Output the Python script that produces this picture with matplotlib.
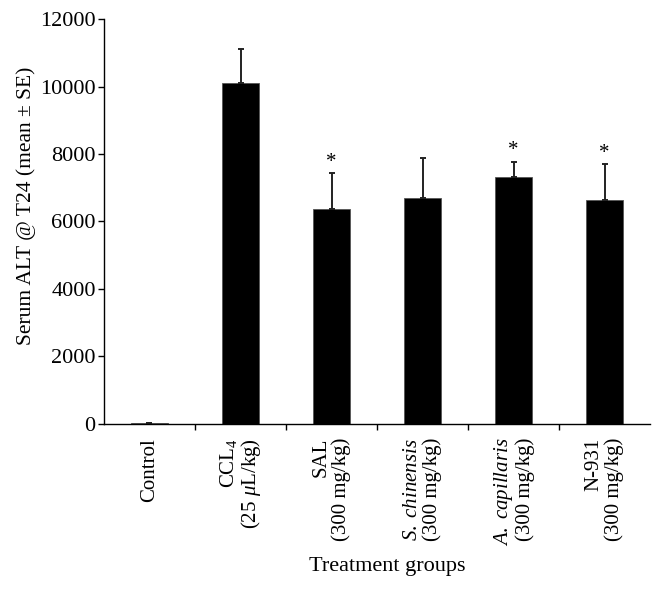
import matplotlib
matplotlib.use("Agg")
import matplotlib.pyplot as plt
import numpy as np

# data
groups = ["Control",
          "CCL$_4$\n(25 $\\mu$L/kg)",
          "SAL\n(300 mg/kg)",
          "$\\mathit{S.\\ chinensis}$\n(300 mg/kg)",
          "$\\mathit{A.\\ capillaris}$\n(300 mg/kg)",
          "N-931\n(300 mg/kg)"]
means = [30, 10100, 6380, 6700, 7320, 6630]
errs = [0, 1000, 1060, 1180, 450, 1060]
signif = [False, False, True, False, True, True]

plt.rcParams['font.family'] = 'Liberation Serif'
plt.rcParams['mathtext.fontset'] = 'custom'
plt.rcParams['mathtext.rm'] = 'Liberation Serif'
plt.rcParams['mathtext.it'] = 'Liberation Serif:italic'
plt.rcParams['mathtext.bf'] = 'Liberation Serif:bold'

fig = plt.figure(figsize=(6.64, 5.92), dpi=100)
ax = fig.add_axes([0.1566, 0.2838, 0.8224, 0.6841])

x = np.arange(len(groups)) + 0.5
ax.bar(x, means, width=0.4, color='black', edgecolor='#555555', linewidth=0.6,
       yerr=[np.zeros(len(errs)), errs], capsize=2,
       error_kw=dict(elinewidth=1.4, capthick=1.4, ecolor='#222222'))

for xi, m, e, s in zip(x, means, errs, signif):
    if s:
        ax.text(xi, m + e + 40, "*", ha='center', va='bottom', fontsize=15)

ax.set_xlim(0, 6)
ax.set_ylim(0, 12000)
ax.set_yticks(np.arange(0, 12001, 2000))
ax.set_xticks(np.arange(1, 6))
ax.set_xticklabels([])
ax.set_xticks(x, minor=True)
ax.set_xticklabels(groups, minor=True, rotation=90, va='top', ha='center',
                   multialignment='right', linespacing=1.05)
ax.tick_params(axis='x', which='minor', length=0, pad=10, labelsize=15)
ax.tick_params(axis='x', which='major', length=4, width=1, direction='out')
ax.tick_params(axis='y', length=4, width=1, direction='out', labelsize=16, pad=2)

for side in ['top', 'right']:
    ax.spines[side].set_visible(False)
ax.spines['left'].set_linewidth(1)
ax.spines['bottom'].set_linewidth(1)

ax.set_ylabel("Serum ALT @ T24 (mean \u00b1 SE)", fontsize=15.5)
ax.yaxis.set_label_coords(-0.1245, 0.538)
ax.set_xlabel("Treatment groups", fontsize=16)
ax.xaxis.set_label_coords(0.518, -0.328)

fig.savefig("out.png", dpi=100)
